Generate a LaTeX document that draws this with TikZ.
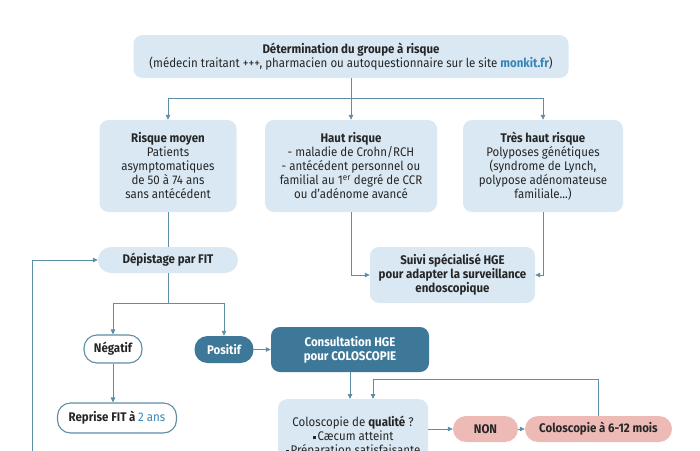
\documentclass[tikz,border=0pt]{standalone}
\usepackage{fontspec}
\setmainfont[FakeStretch=0.92]{Fira Sans}
\usetikzlibrary{arrows.meta}
\definecolor{lb}{HTML}{D9E8F3}
\definecolor{lnc}{HTML}{5E8DA6}
\definecolor{db}{HTML}{3E7898}
\definecolor{pk}{HTML}{EDBAB6}
\definecolor{tx}{HTML}{262626}
\definecolor{lk}{HTML}{3A84B5}
\newcommand{\sq}{\raisebox{1.5pt}{\rule{3pt}{3pt}}\,}
\newcommand{\fs}{\fontsize{12.5}{14}\selectfont}
\begin{document}
\begin{tikzpicture}[x=1pt,y=-1pt,
  every node/.style={text=tx, font=\fs, align=center, inner sep=0pt},
  box/.style={fill=lb, rounded corners=9pt},
  pillw/.style={fill=white, draw=lnc, line width=1.1pt, rounded corners=13pt, font=\fs\bfseries},
  pilld/.style={fill=db, rounded corners=13pt, text=white, font=\fs\bfseries},
  pillp/.style={fill=pk, rounded corners=13pt, font=\fs\bfseries},
  arr/.style={draw=lnc, line width=0.8pt, -{Triangle[length=5pt,width=4.5pt]}},
  lnk/.style={draw=lnc, line width=0.8pt}]
\useasboundingbox (0,0) rectangle (700,450);
\clip (0,0) rectangle (700,450);

\node[box, minimum width=435pt, minimum height=43pt] (top) at (351,56.5)
  {\bfseries Détermination du groupe à risque\\[0pt]
   (médecin traitant +++, pharmacien ou autoquestionnaire sur le site {\color{lk}\bfseries monkit.fr})};

\node[box, minimum width=137pt, minimum height=92pt] (rm) at (168,166)
  {\textbf{Risque moyen}\\Patients\\asymptomatiques\\de 50 à 74 ans\\sans antécédent};
\node[box, minimum width=172pt, minimum height=92pt] (hr) at (351,166)
  {\textbf{Haut risque}\\- maladie de Crohn/RCH\\- antécédent personnel ou\\familial au 1\textsuperscript{er} degré de CCR\\ou d’adénome avancé};
\node[box, minimum width=160pt, minimum height=92pt] (thr) at (543,166)
  {\textbf{Très haut risque}\\Polyposes génétiques\\(syndrome de Lynch,\\polypose adénomateuse\\familiale...)};

\node[box, rounded corners=13pt, minimum width=140pt, minimum height=26pt, font=\fs\bfseries] (dep) at (168,260) {Dépistage par FIT};
\node[box, minimum width=165pt, minimum height=56pt, font=\fs\bfseries] (suivi) at (452.5,275)
  {Suivi spécialisé HGE\\pour adapter la surveillance\\endoscopique};

\node[pillw, minimum width=58pt, minimum height=28pt] (neg) at (113,349) {Négatif};
\node[pillw, minimum width=119pt, minimum height=30pt] (rep) at (117,418) {Reprise FIT à {\color{lk}\mdseries 2 ans}};
\node[pilld, minimum width=59pt, minimum height=27pt] (pos) at (224,349.5) {Positif};
\node[pilld, rounded corners=9pt, minimum width=158pt, minimum height=45pt] (cons) at (350,349.5) {Consultation HGE\\pour COLOSCOPIE};

\node[box, minimum width=150pt, minimum height=80pt, anchor=north] (qual) at (353,399) {};
\node (qualt) at (353,437) {Coloscopie de \textbf{qualité} ?\\\sq Cæcum atteint\\\sq Préparation satisfaisante};

\node[pillp, minimum width=65pt, minimum height=26pt] (non) at (485.5,429) {NON};
\node[pillp, minimum width=147pt, minimum height=26pt] (c612) at (598.5,429) {Coloscopie à 6-12 mois};

% connectors
\coordinate (j1) at (351,98);
\draw[arr] (top.south) -- (hr.north);
\draw[arr] (j1) -| (rm.north);
\draw[arr] (j1) -| (thr.north);
\draw[lnk] (rm.south) -- (dep.north);
\draw[arr] (hr.south) |- (suivi.west);
\draw[arr] (thr.south) |- (suivi.east);

\coordinate (j2) at (168,303);
\draw[lnk] (dep.south) -- (j2);
\draw[arr] (j2) -| (neg.north);
\draw[arr] (j2) -| (pos.north);
\draw[arr] (neg.south) -- (neg.south |- rep.north);
\draw[arr] (pos.east) -- (cons.west);
\draw[arr] (cons.south) -- (cons.south |- qual.north);

\coordinate (lb) at (32,470);
\draw[arr] (lb) |- (dep.west);

\coordinate (q2) at (373,399);
\coordinate (lp) at (373,379);
\draw[arr] (c612.north) |- (lp) -- (q2);
\draw[arr] (qual.east |- non.west) -- (non.west);
\draw[arr] (non.east) -- (c612.west);
\end{tikzpicture}
\end{document}
